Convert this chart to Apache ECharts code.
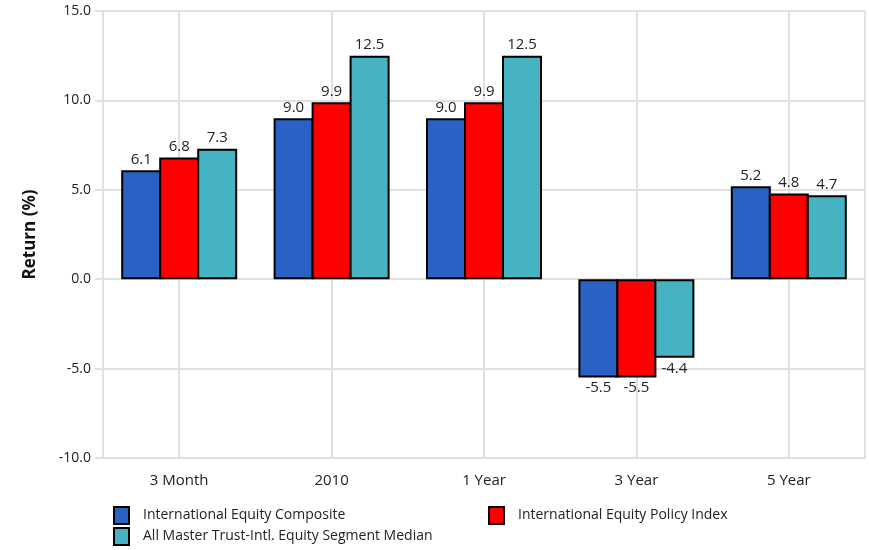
<!DOCTYPE html>
<html>
<head>
<meta charset="utf-8">
<script src="https://cdn.jsdelivr.net/npm/echarts@6/dist/echarts.min.js"></script>
<style>
  html, body { margin: 0; padding: 0; background: #fff; }
  #chart { width: 869px; height: 550px; }
</style>
</head>
<body>
<div id="chart"></div>
<script>
const categories = ['3 Month', '2010', '1 Year', '3 Year', '5 Year'];
const seriesNames = [
    'International Equity Composite',
    'International Equity Policy Index',
    'All Master Trust-Intl. Equity Segment Median'
];
const composite = [6.1, 9.0, 9.0, -5.5, 5.2];
const policyIndex = [6.8, 9.9, 9.9, -5.5, 4.8];
const segmentMedian = [7.3, 12.5, 12.5, -4.4, 4.7];
const colors = ['#2962c4', '#ff0000', '#46b3c3'];

const font = 'Open Sans';
const gridColor = '#e0e0e0';

function makeSeries(name, values, color) {
    return {
        name: name,
        type: 'bar',
        barWidth: 40,
        barGap: '-5%',
        itemStyle: { color: color, borderColor: '#000', borderWidth: 2 },
        data: values.map(v => ({
            value: v,
            label: { position: v < 0 ? 'bottom' : 'top' }
        })),
        label: {
            show: true,
            distance: 3,
            fontFamily: font,
            fontSize: 15,
            color: '#222',
            formatter: p => p.value.toFixed(1)
        }
    };
}

function makeLegend(name, left, top) {
    return {
        data: [name],
        left: left,
        top: top,
        padding: 0,
        icon: 'rect',
        itemWidth: 15,
        itemHeight: 17,
        itemStyle: { borderColor: '#000', borderWidth: 2 },
        textStyle: { fontFamily: font, fontSize: 14, color: '#222', padding: [0, 0, 0, 9] }
    };
}

const chart = echarts.init(document.getElementById('chart'));
chart.setOption({
    animation: false,
    grid: { left: 103, right: 4, top: 11, bottom: 92 },
    legend: [
        makeLegend(seriesNames[0], 113, 506),
        makeLegend(seriesNames[1], 488, 506),
        makeLegend(seriesNames[2], 113, 527)
    ],
    xAxis: {
        type: 'category',
        data: categories,
        axisLine: { lineStyle: { color: gridColor, width: 2 } },
        axisTick: { alignWithLabel: true, length: 8, lineStyle: { color: gridColor, width: 2 } },
        splitLine: { show: true, alignWithLabel: true, lineStyle: { color: gridColor, width: 2 } },
        axisLabel: { margin: 15, fontFamily: font, fontSize: 15, color: '#222' }
    },
    yAxis: [{
        type: 'value',
        min: -10,
        max: 15,
        interval: 5,
        name: 'Return (%)',
        nameLocation: 'middle',
        nameGap: 64,
        nameTextStyle: { fontFamily: font, fontSize: 17, fontWeight: 'bold', color: '#111' },
        axisLine: { show: true, lineStyle: { color: gridColor, width: 2 } },
        axisTick: { show: true, length: 8, lineStyle: { color: gridColor, width: 2 } },
        splitLine: { lineStyle: { color: gridColor, width: 2 } },
        axisLabel: {
            margin: 12,
            fontFamily: font,
            fontSize: 14,
            color: '#222',
            formatter: v => v.toFixed(1)
        }
    }, {
        type: 'value',
        position: 'right',
        min: -10,
        max: 15,
        interval: 5,
        axisLine: { show: true, lineStyle: { color: gridColor, width: 2 } },
        axisTick: { show: false },
        axisLabel: { show: false },
        splitLine: { show: false }
    }],
    series: [
        makeSeries(seriesNames[0], composite, colors[0]),
        makeSeries(seriesNames[1], policyIndex, colors[1]),
        makeSeries(seriesNames[2], segmentMedian, colors[2])
    ]
});
</script>
</body>
</html>
